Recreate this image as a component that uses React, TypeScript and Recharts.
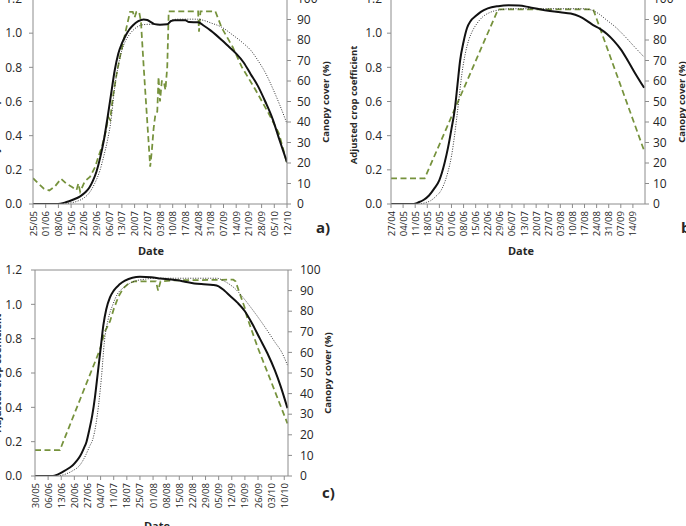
import React from 'react';
import { ComposedChart, Line, XAxis, YAxis, ReferenceLine } from 'recharts';

const FONT = '"Open Sans", "Liberation Sans", sans-serif';
const AXIS = '#8c8c8c';
const TXT = '#262626';
const GREEN = '#76923C';

// ---------- shared axis ticks ----------
const kcTicks = [0, 0.2, 0.4, 0.6, 0.8, 1.0, 1.2];
const ccTicks = [0, 10, 20, 30, 40, 50, 60, 70, 80, 90, 100];

// ---------- panel a ----------
const aDates = ['25/05', '01/06', '08/06', '15/06', '22/06', '29/06', '06/07', '13/07', '20/07', '27/07', '03/08', '10/08', '17/08', '24/08', '31/08', '07/09', '14/09', '21/09', '28/09', '05/10', '12/10'];
const aSolidDay = [0, 13, 18, 22, 26, 29, 31, 33, 35, 37, 39, 41, 43, 45, 47, 49, 51, 53, 55, 58, 61, 63, 65, 67, 70, 74, 76, 78, 84, 86, 91, 94, 98, 104, 108, 112, 116, 120, 124, 128, 132, 136, 140];
const aSolidKc = [0, 0, 0.01, 0.025, 0.045, 0.07, 0.095, 0.135, 0.19, 0.27, 0.37, 0.5, 0.64, 0.78, 0.88, 0.94, 0.985, 1.02, 1.045, 1.07, 1.08, 1.077, 1.065, 1.053, 1.05, 1.052, 1.07, 1.075, 1.075, 1.065, 1.064, 1.045, 1.015, 0.96, 0.92, 0.88, 0.83, 0.76, 0.69, 0.6, 0.5, 0.37, 0.245];
const aDotDay = [0, 16, 20, 24, 28, 31, 34, 37, 39, 41, 43, 45, 47, 49, 51, 53, 56, 60, 64, 70, 74, 76, 80, 90, 94, 98, 104, 110, 116, 120, 124, 128, 132, 136, 140];
const aDotKc = [0, 0, 0.005, 0.015, 0.035, 0.065, 0.12, 0.2, 0.28, 0.37, 0.49, 0.68, 0.81, 0.9, 0.955, 0.99, 1.025, 1.048, 1.052, 1.05, 1.052, 1.075, 1.082, 1.082, 1.075, 1.06, 1.035, 0.99, 0.94, 0.9, 0.84, 0.77, 0.68, 0.58, 0.47];
const aCcDay = [0, 3, 6, 9, 12, 15.5, 18.5, 21.5, 24, 25, 26, 28.5, 31.5, 34.3, 36, 38, 40, 41.5, 42.5, 44, 46, 48, 50, 52, 53.5, 55, 56, 57, 58.5, 59.5, 61, 62.8, 64.6, 65.5, 66.5, 67.5, 68.5, 69.2, 70, 71, 72, 73, 74, 74.8, 91, 91.5, 92.3, 100.5, 104, 110, 115, 122.7, 130, 135.5, 140];
const aCc = [12.6, 10, 7.5, 6.6, 8.5, 12.3, 9.8, 8.3, 6.8, 10, 6, 11, 13.3, 18.2, 23, 28, 35, 42.5, 41, 52, 63, 72, 80, 88, 93.7, 93.7, 91, 93.7, 93.7, 89, 67, 42.5, 18.2, 26, 37, 44, 45, 62, 50, 60, 60, 55.6, 67, 94, 94, 84, 94, 94, 86, 76.7, 67, 55.6, 44, 34.5, 20];

// ---------- panel b ----------
const bDates = ['27/04', '04/05', '11/05', '18/05', '25/05', '01/06', '08/06', '15/06', '22/06', '29/06', '06/07', '13/07', '20/07', '27/07', '03/08', '10/08', '17/08', '24/08', '31/08', '07/09', '14/09'];
const bSolidDay = [0, 13, 16, 19, 22, 25, 28, 31, 33, 35, 37, 38.5, 40, 42, 44, 46, 49, 52, 56, 62, 68, 74, 80, 86, 92, 98, 104, 109, 113, 117, 121, 125, 129, 133, 137, 141, 146.5];
const bSolidKc = [0, 0, 0.01, 0.025, 0.05, 0.09, 0.14, 0.24, 0.33, 0.44, 0.56, 0.7, 0.84, 0.95, 1.03, 1.07, 1.1, 1.125, 1.145, 1.158, 1.163, 1.162, 1.152, 1.14, 1.13, 1.122, 1.115, 1.098, 1.075, 1.047, 1.025, 0.995, 0.955, 0.905, 0.84, 0.77, 0.68];
const bDotDay = [0, 16, 20, 23, 26, 29, 31, 33, 35, 36.5, 38, 39.5, 41, 43, 45, 47, 50, 53, 57, 62, 70, 80, 100, 110, 115, 120, 125, 130, 135, 140, 146.5];
const bDotKc = [0, 0, 0.008, 0.02, 0.045, 0.08, 0.125, 0.19, 0.28, 0.38, 0.5, 0.63, 0.76, 0.88, 0.96, 1.01, 1.06, 1.095, 1.12, 1.135, 1.143, 1.143, 1.143, 1.143, 1.138, 1.115, 1.075, 1.035, 0.985, 0.93, 0.86];
const bCcDay = [0, 19.5, 62, 117, 146.5];
const bCc = [12.5, 12.5, 95, 95, 26];

// ---------- panel c ----------
const cDates = ['30/05', '06/06', '13/06', '20/06', '27/06', '04/07', '11/07', '18/07', '25/07', '01/08', '08/08', '15/08', '22/08', '29/08', '05/09', '12/09', '19/09', '26/09', '03/10', '10/10'];
const cSolidDay = [0, 9.5, 12, 15, 18, 20.3, 22, 24, 26, 27.5, 29, 30.5, 32, 33.5, 35, 36.5, 38, 40, 42, 45, 48, 52, 56, 62, 67, 72, 76, 80, 85, 90, 95, 98, 101, 104, 108, 112, 116, 120, 124, 128, 131, 134.7];
const cSolidKc = [0, 0, 0.008, 0.025, 0.045, 0.064, 0.085, 0.115, 0.16, 0.2, 0.27, 0.35, 0.46, 0.6, 0.74, 0.88, 0.97, 1.04, 1.08, 1.115, 1.138, 1.155, 1.16, 1.158, 1.15, 1.145, 1.14, 1.132, 1.122, 1.117, 1.113, 1.105, 1.08, 1.05, 1.01, 0.96, 0.885, 0.8, 0.715, 0.615, 0.525, 0.395];
const cDotDay = [0, 12, 16, 20, 24, 27, 29, 31, 32.5, 34, 35.5, 37, 39, 41.6, 44, 47, 52, 59, 65, 97, 101, 104, 106.6, 111, 115.5, 120, 124.4, 128, 131.5, 134.7];
const cDotKc = [0, 0, 0.01, 0.03, 0.064, 0.12, 0.17, 0.22, 0.3, 0.42, 0.58, 0.78, 0.91, 1.0, 1.06, 1.095, 1.13, 1.147, 1.152, 1.152, 1.135, 1.115, 1.093, 1.04, 0.977, 0.91, 0.84, 0.78, 0.724, 0.646];
const cCcDay = [0, 13.3, 34.7, 37.2, 40, 42, 44.5, 47, 50, 53, 64.5, 65.7, 67, 75, 105.8, 107, 112, 113, 119, 126, 134.7];
const cCc = [12.6, 12.6, 61.5, 70, 75, 81, 87, 91, 93.5, 94.5, 94.5, 90, 94.5, 95, 95.3, 94.5, 81.4, 77.5, 62, 45.8, 25.5];

type Pt = { d: number; v: number };
const zip = (d: number[], v: number[]): Pt[] => d.map((x, i) => ({ d: x, v: v[i] }));

type PanelProps = {
  left: number; top: number; width: number; height: number;
  marginTop: number; xHeight: number; leftW: number; rightW: number;
  leftMargin: number; rightMargin: number; maxDay: number; labels: string[];
  solid: Pt[]; dotted: Pt[]; cover: Pt[];
};

function Panel(p: PanelProps) {
  const ticks = p.labels.map((_, i) => i * 7);
  const renderTick = (t: any) => {
    const { x, y, payload } = t;
    const idx = Math.round(payload.value / 7);
    return (
      <text x={x} y={y} transform={`rotate(-90 ${x} ${y})`} textAnchor="end" dominantBaseline="central"
        fontSize={9.5} fill={TXT} fontFamily={FONT}>{p.labels[idx]}</text>
    );
  };
  return (
    <div style={{ position: 'absolute', left: p.left, top: p.top }}>
      <ComposedChart width={p.width} height={p.height} margin={{ top: p.marginTop, right: 0, bottom: 0, left: 0 }}>
        <XAxis xAxisId="x" dataKey="d" type="number" domain={[0, p.maxDay]} ticks={ticks} interval={0}
          allowDataOverflow height={p.xHeight} tickSize={4} tickMargin={3} stroke={AXIS} tick={renderTick} />
        <YAxis yAxisId="kc" orientation="left" type="number" domain={[0, 1.2]} ticks={kcTicks} interval={0}
          allowDataOverflow width={p.leftW} tickSize={4} tickMargin={p.leftMargin} stroke={AXIS}
          tickFormatter={(v: number) => v.toFixed(1)}
          tick={{ fill: TXT, fontSize: 12, fontFamily: FONT }} />
        <YAxis yAxisId="cc" orientation="right" type="number" domain={[0, 100]} ticks={ccTicks} interval={0}
          allowDataOverflow width={p.rightW} tickSize={4} tickMargin={p.rightMargin} stroke={AXIS}
          tick={{ fill: TXT, fontSize: 12, fontFamily: FONT, textAnchor: 'start' }} />
        <ReferenceLine xAxisId="x" yAxisId="kc" y={1.2} stroke={AXIS} />
        <Line xAxisId="x" yAxisId="cc" data={p.cover} dataKey="v" type="linear" stroke={GREEN}
          strokeWidth={1.75} strokeDasharray="6 3.5" dot={false} isAnimationActive={false} />
        <Line xAxisId="x" yAxisId="kc" data={p.dotted} dataKey="v" type="monotone" stroke="#333333"
          strokeWidth={1} strokeDasharray="1 1.5" dot={false} isAnimationActive={false} />
        <Line xAxisId="x" yAxisId="kc" data={p.solid} dataKey="v" type="monotone" stroke="#111111"
          strokeWidth={2} dot={false} isAnimationActive={false} />
      </ComposedChart>
    </div>
  );
}

const titleStyle = { fontFamily: FONT, fontWeight: 700, fill: TXT } as const;

export default function App() {
  return (
    <div style={{ position: 'fixed', left: 0, top: 0, width: 686, height: 526, overflow: 'hidden', background: '#fff' }}>
      <Panel left={0} top={-20} width={340} height={290} marginTop={19} xHeight={66} leftW={33} rightW={53}
        leftMargin={7} rightMargin={6} maxDay={140} labels={aDates}
        solid={zip(aSolidDay, aSolidKc)} dotted={zip(aDotDay, aDotKc)} cover={zip(aCcDay, aCc)} />
      <Panel left={343} top={-20} width={343} height={290} marginTop={19} xHeight={66} leftW={48} rightW={41}
        leftMargin={5} rightMargin={4} maxDay={147} labels={bDates}
        solid={zip(bSolidDay, bSolidKc)} dotted={zip(bDotDay, bDotKc)} cover={zip(bCcDay, bCc)} />
      <Panel left={0} top={250} width={340} height={290} marginTop={20} xHeight={64} leftW={35} rightW={52}
        leftMargin={9} rightMargin={8} maxDay={135} labels={cDates}
        solid={zip(cSolidDay, cSolidKc)} dotted={zip(cDotDay, cDotKc)} cover={zip(cCcDay, cCc)} />
      <svg width={686} height={526} style={{ position: 'absolute', left: 0, top: 0, pointerEvents: 'none' }}>
        <text x={151} y={255} textAnchor="middle" fontSize={11} {...titleStyle}>Date</text>
        <text x={521} y={255} textAnchor="middle" fontSize={11} {...titleStyle}>Date</text>
        <text x={157} y={530} textAnchor="middle" fontSize={11} {...titleStyle}>Date</text>
        <text x={316} y={233} fontSize={15} {...titleStyle}>a)</text>
        <text x={681} y={233} fontSize={15} {...titleStyle}>b)</text>
        <text x={322} y={498} fontSize={15} {...titleStyle}>c)</text>
        <text x={325} y={102} transform="rotate(-90 325 102)" textAnchor="middle" dominantBaseline="central" fontSize={9.5} {...titleStyle}>Canopy cover (%)</text>
        <text x={681} y={102} transform="rotate(-90 681 102)" textAnchor="middle" dominantBaseline="central" fontSize={9.5} {...titleStyle}>Canopy cover (%)</text>
        <text x={327} y={373} transform="rotate(-90 327 373)" textAnchor="middle" dominantBaseline="central" fontSize={9.5} {...titleStyle}>Canopy cover (%)</text>
        <text x={353} y={105} transform="rotate(-90 353 105)" textAnchor="middle" dominantBaseline="central" fontSize={9.5} {...titleStyle}>Adjusted crop coefficient</text>
        <text x={-5} y={105} transform="rotate(-90 -5 105)" textAnchor="middle" dominantBaseline="central" fontSize={9.5} {...titleStyle}>Adjusted crop coefficient</text>
        <text x={-3} y={373} transform="rotate(-90 -3 373)" textAnchor="middle" dominantBaseline="central" fontSize={9.5} {...titleStyle}>Adjusted crop coefficient</text>
      </svg>
    </div>
  );
}
